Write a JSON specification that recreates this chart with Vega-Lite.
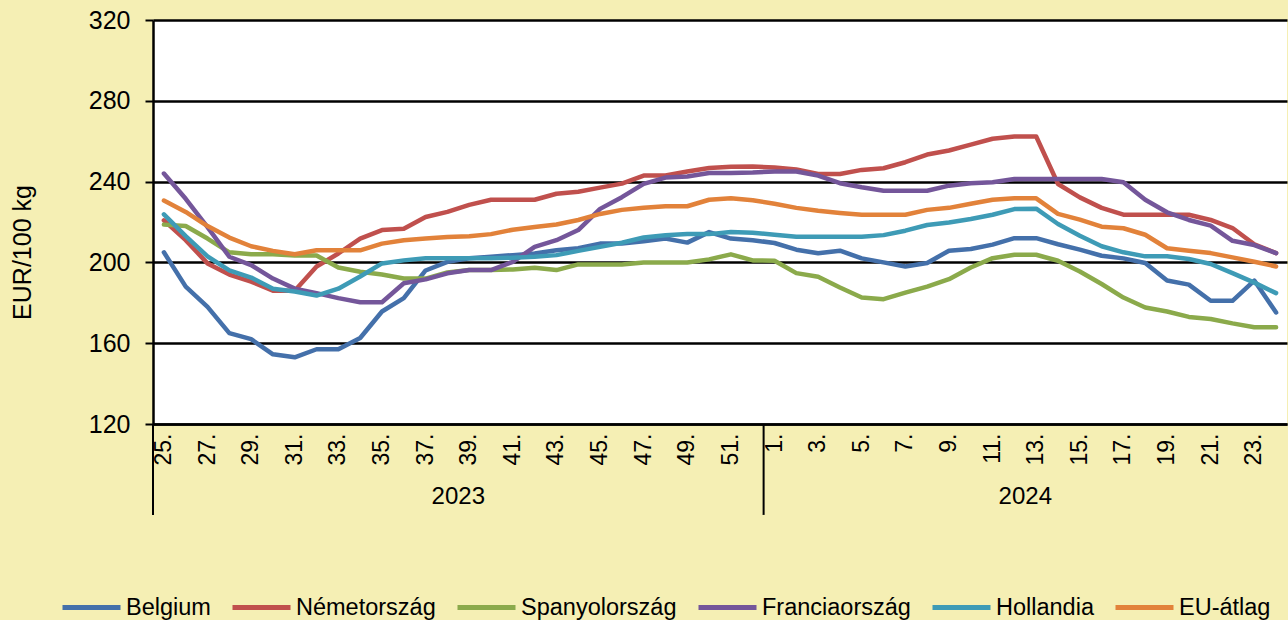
{
"$schema":"https://vega.github.io/schema/vega-lite/v6.json",
"width":1134,"height":404,
"autosize":{"type":"none"},
"padding":{"left":153,"top":20,"right":1,"bottom":196},
"background":"#F5EFB4",
"config":{"font":"Liberation Sans","view":{"fill":"white","stroke":null}},
"layer":[
{"data":{"values":[{"w":"2023-25"},{"w":"2024-01"}]},
 "mark":{"type":"rule","color":"black","strokeWidth":2},
 "encoding":{"x":{"field":"w","type":"ordinal","bandPosition":0},
  "y":{"datum":120,"type":"quantitative","scale":{"domain":[120,320]}},
  "y2":{"datum":75}}},
{"data":{"values":[{"w":"2023-39","t":"2023"},{"w":"2024-13","t":"2024"}]},
 "mark":{"type":"text","fontSize":24,"color":"black","baseline":"middle","align":"center"},
 "encoding":{"x":{"field":"w","type":"ordinal","bandPosition":0},
  "y":{"datum":84,"type":"quantitative","scale":{"domain":[120,320]}},
  "text":{"field":"t"}}},
{"data":{"values":[
{"w":"2023-25","c":"Belgium","v":205},{"w":"2023-26","c":"Belgium","v":188},{"w":"2023-27","c":"Belgium","v":178},{"w":"2023-28","c":"Belgium","v":165},{"w":"2023-29","c":"Belgium","v":162},{"w":"2023-30","c":"Belgium","v":154.5},{"w":"2023-31","c":"Belgium","v":153},{"w":"2023-32","c":"Belgium","v":157},{"w":"2023-33","c":"Belgium","v":157},{"w":"2023-34","c":"Belgium","v":162.6},{"w":"2023-35","c":"Belgium","v":175.7},{"w":"2023-36","c":"Belgium","v":182.3},{"w":"2023-37","c":"Belgium","v":196},{"w":"2023-38","c":"Belgium","v":200.3},{"w":"2023-39","c":"Belgium","v":202},{"w":"2023-40","c":"Belgium","v":202.8},{"w":"2023-41","c":"Belgium","v":203.6},{"w":"2023-42","c":"Belgium","v":204.4},{"w":"2023-43","c":"Belgium","v":206},{"w":"2023-44","c":"Belgium","v":207},{"w":"2023-45","c":"Belgium","v":209.3},{"w":"2023-46","c":"Belgium","v":209.3},{"w":"2023-47","c":"Belgium","v":210.5},{"w":"2023-48","c":"Belgium","v":211.8},{"w":"2023-49","c":"Belgium","v":209.8},{"w":"2023-50","c":"Belgium","v":215},{"w":"2023-51","c":"Belgium","v":211.8},{"w":"2023-52","c":"Belgium","v":211},{"w":"2024-01","c":"Belgium","v":209.6},{"w":"2024-02","c":"Belgium","v":206.3},{"w":"2024-03","c":"Belgium","v":204.5},{"w":"2024-04","c":"Belgium","v":205.8},{"w":"2024-05","c":"Belgium","v":202},{"w":"2024-06","c":"Belgium","v":200},{"w":"2024-07","c":"Belgium","v":198},{"w":"2024-08","c":"Belgium","v":199.7},{"w":"2024-09","c":"Belgium","v":205.8},{"w":"2024-10","c":"Belgium","v":206.6},{"w":"2024-11","c":"Belgium","v":208.8},{"w":"2024-12","c":"Belgium","v":212},{"w":"2024-13","c":"Belgium","v":212},{"w":"2024-14","c":"Belgium","v":209},{"w":"2024-15","c":"Belgium","v":206.3},{"w":"2024-16","c":"Belgium","v":203.3},{"w":"2024-17","c":"Belgium","v":202},{"w":"2024-18","c":"Belgium","v":199.7},{"w":"2024-19","c":"Belgium","v":191},{"w":"2024-20","c":"Belgium","v":189},{"w":"2024-21","c":"Belgium","v":181},{"w":"2024-22","c":"Belgium","v":181},{"w":"2024-23","c":"Belgium","v":191},{"w":"2024-24","c":"Belgium","v":175.2},
{"w":"2023-25","c":"Németország","v":220.8},{"w":"2023-26","c":"Németország","v":211},{"w":"2023-27","c":"Németország","v":199.5},{"w":"2023-28","c":"Németország","v":194},{"w":"2023-29","c":"Németország","v":190.5},{"w":"2023-30","c":"Németország","v":186},{"w":"2023-31","c":"Németország","v":186},{"w":"2023-32","c":"Németország","v":198},{"w":"2023-33","c":"Németország","v":204.4},{"w":"2023-34","c":"Németország","v":211.8},{"w":"2023-35","c":"Németország","v":216},{"w":"2023-36","c":"Németország","v":216.7},{"w":"2023-37","c":"Németország","v":222.5},{"w":"2023-38","c":"Németország","v":225},{"w":"2023-39","c":"Németország","v":228.5},{"w":"2023-40","c":"Németország","v":231},{"w":"2023-41","c":"Németország","v":231},{"w":"2023-42","c":"Németország","v":231},{"w":"2023-43","c":"Németország","v":234},{"w":"2023-44","c":"Németország","v":235},{"w":"2023-45","c":"Németország","v":237},{"w":"2023-46","c":"Németország","v":239},{"w":"2023-47","c":"Németország","v":243},{"w":"2023-48","c":"Németország","v":243},{"w":"2023-49","c":"Németország","v":245},{"w":"2023-50","c":"Németország","v":246.7},{"w":"2023-51","c":"Németország","v":247.4},{"w":"2023-52","c":"Németország","v":247.5},{"w":"2024-01","c":"Németország","v":247},{"w":"2024-02","c":"Németország","v":246},{"w":"2024-03","c":"Németország","v":243.8},{"w":"2024-04","c":"Németország","v":243.8},{"w":"2024-05","c":"Németország","v":245.8},{"w":"2024-06","c":"Németország","v":246.6},{"w":"2024-07","c":"Németország","v":249.6},{"w":"2024-08","c":"Németország","v":253.4},{"w":"2024-09","c":"Németország","v":255.4},{"w":"2024-10","c":"Németország","v":258.3},{"w":"2024-11","c":"Németország","v":261.2},{"w":"2024-12","c":"Németország","v":262.3},{"w":"2024-13","c":"Németország","v":262.3},{"w":"2024-14","c":"Németország","v":238.8},{"w":"2024-15","c":"Németország","v":232.2},{"w":"2024-16","c":"Németország","v":227},{"w":"2024-17","c":"Németország","v":223.6},{"w":"2024-18","c":"Németország","v":223.6},{"w":"2024-19","c":"Németország","v":223.6},{"w":"2024-20","c":"Németország","v":223.6},{"w":"2024-21","c":"Németország","v":221},{"w":"2024-22","c":"Németország","v":217},{"w":"2024-23","c":"Németország","v":209},{"w":"2024-24","c":"Németország","v":204.6},
{"w":"2023-25","c":"Spanyolország","v":218.7},{"w":"2023-26","c":"Spanyolország","v":218},{"w":"2023-27","c":"Spanyolország","v":211.8},{"w":"2023-28","c":"Spanyolország","v":205},{"w":"2023-29","c":"Spanyolország","v":204},{"w":"2023-30","c":"Spanyolország","v":204},{"w":"2023-31","c":"Spanyolország","v":203.4},{"w":"2023-32","c":"Spanyolország","v":203.4},{"w":"2023-33","c":"Spanyolország","v":197.5},{"w":"2023-34","c":"Spanyolország","v":195.4},{"w":"2023-35","c":"Spanyolország","v":194},{"w":"2023-36","c":"Spanyolország","v":192},{"w":"2023-37","c":"Spanyolország","v":192},{"w":"2023-38","c":"Spanyolország","v":195},{"w":"2023-39","c":"Spanyolország","v":196.2},{"w":"2023-40","c":"Spanyolország","v":196.2},{"w":"2023-41","c":"Spanyolország","v":196.5},{"w":"2023-42","c":"Spanyolország","v":197.4},{"w":"2023-43","c":"Spanyolország","v":196.2},{"w":"2023-44","c":"Spanyolország","v":199},{"w":"2023-45","c":"Spanyolország","v":199},{"w":"2023-46","c":"Spanyolország","v":199},{"w":"2023-47","c":"Spanyolország","v":200},{"w":"2023-48","c":"Spanyolország","v":200},{"w":"2023-49","c":"Spanyolország","v":200},{"w":"2023-50","c":"Spanyolország","v":201.5},{"w":"2023-51","c":"Spanyolország","v":204},{"w":"2023-52","c":"Spanyolország","v":201},{"w":"2024-01","c":"Spanyolország","v":200.8},{"w":"2024-02","c":"Spanyolország","v":194.7},{"w":"2024-03","c":"Spanyolország","v":192.9},{"w":"2024-04","c":"Spanyolország","v":187.6},{"w":"2024-05","c":"Spanyolország","v":182.6},{"w":"2024-06","c":"Spanyolország","v":181.8},{"w":"2024-07","c":"Spanyolország","v":185},{"w":"2024-08","c":"Spanyolország","v":188},{"w":"2024-09","c":"Spanyolország","v":191.7},{"w":"2024-10","c":"Spanyolország","v":197.5},{"w":"2024-11","c":"Spanyolország","v":202.1},{"w":"2024-12","c":"Spanyolország","v":203.8},{"w":"2024-13","c":"Spanyolország","v":203.8},{"w":"2024-14","c":"Spanyolország","v":200.8},{"w":"2024-15","c":"Spanyolország","v":195.5},{"w":"2024-16","c":"Spanyolország","v":189.3},{"w":"2024-17","c":"Spanyolország","v":182.6},{"w":"2024-18","c":"Spanyolország","v":177.7},{"w":"2024-19","c":"Spanyolország","v":175.7},{"w":"2024-20","c":"Spanyolország","v":173},{"w":"2024-21","c":"Spanyolország","v":172},{"w":"2024-22","c":"Spanyolország","v":169.8},{"w":"2024-23","c":"Spanyolország","v":167.9},{"w":"2024-24","c":"Spanyolország","v":167.9},
{"w":"2023-25","c":"Franciaország","v":244},{"w":"2023-26","c":"Franciaország","v":231.5},{"w":"2023-27","c":"Franciaország","v":217.5},{"w":"2023-28","c":"Franciaország","v":202.8},{"w":"2023-29","c":"Franciaország","v":198.7},{"w":"2023-30","c":"Franciaország","v":192},{"w":"2023-31","c":"Franciaország","v":187},{"w":"2023-32","c":"Franciaország","v":184.8},{"w":"2023-33","c":"Franciaország","v":182.3},{"w":"2023-34","c":"Franciaország","v":180.3},{"w":"2023-35","c":"Franciaország","v":180.3},{"w":"2023-36","c":"Franciaország","v":189.7},{"w":"2023-37","c":"Franciaország","v":191.6},{"w":"2023-38","c":"Franciaország","v":194.6},{"w":"2023-39","c":"Franciaország","v":196.2},{"w":"2023-40","c":"Franciaország","v":196.2},{"w":"2023-41","c":"Franciaország","v":200.3},{"w":"2023-42","c":"Franciaország","v":207.7},{"w":"2023-43","c":"Franciaország","v":211},{"w":"2023-44","c":"Franciaország","v":216},{"w":"2023-45","c":"Franciaország","v":226.5},{"w":"2023-46","c":"Franciaország","v":232.3},{"w":"2023-47","c":"Franciaország","v":238.9},{"w":"2023-48","c":"Franciaország","v":242},{"w":"2023-49","c":"Franciaország","v":242.5},{"w":"2023-50","c":"Franciaország","v":244.3},{"w":"2023-51","c":"Franciaország","v":244.3},{"w":"2023-52","c":"Franciaország","v":244.5},{"w":"2024-01","c":"Franciaország","v":245},{"w":"2024-02","c":"Franciaország","v":245},{"w":"2024-03","c":"Franciaország","v":243},{"w":"2024-04","c":"Franciaország","v":239.2},{"w":"2024-05","c":"Franciaország","v":237.2},{"w":"2024-06","c":"Franciaország","v":235.5},{"w":"2024-07","c":"Franciaország","v":235.5},{"w":"2024-08","c":"Franciaország","v":235.5},{"w":"2024-09","c":"Franciaország","v":238},{"w":"2024-10","c":"Franciaország","v":239.2},{"w":"2024-11","c":"Franciaország","v":239.7},{"w":"2024-12","c":"Franciaország","v":241.3},{"w":"2024-13","c":"Franciaország","v":241.3},{"w":"2024-14","c":"Franciaország","v":241.3},{"w":"2024-15","c":"Franciaország","v":241.3},{"w":"2024-16","c":"Franciaország","v":241.3},{"w":"2024-17","c":"Franciaország","v":239.7},{"w":"2024-18","c":"Franciaország","v":231},{"w":"2024-19","c":"Franciaország","v":224.8},{"w":"2024-20","c":"Franciaország","v":221},{"w":"2024-21","c":"Franciaország","v":218.2},{"w":"2024-22","c":"Franciaország","v":210.7},{"w":"2024-23","c":"Franciaország","v":208.6},{"w":"2024-24","c":"Franciaország","v":204.6},
{"w":"2023-25","c":"Hollandia","v":223.8},{"w":"2023-26","c":"Hollandia","v":213},{"w":"2023-27","c":"Hollandia","v":203},{"w":"2023-28","c":"Hollandia","v":196},{"w":"2023-29","c":"Hollandia","v":192.5},{"w":"2023-30","c":"Hollandia","v":187},{"w":"2023-31","c":"Hollandia","v":185.6},{"w":"2023-32","c":"Hollandia","v":183.6},{"w":"2023-33","c":"Hollandia","v":187},{"w":"2023-34","c":"Hollandia","v":193},{"w":"2023-35","c":"Hollandia","v":199.5},{"w":"2023-36","c":"Hollandia","v":201},{"w":"2023-37","c":"Hollandia","v":202},{"w":"2023-38","c":"Hollandia","v":202},{"w":"2023-39","c":"Hollandia","v":202},{"w":"2023-40","c":"Hollandia","v":202},{"w":"2023-41","c":"Hollandia","v":202.3},{"w":"2023-42","c":"Hollandia","v":202.8},{"w":"2023-43","c":"Hollandia","v":203.6},{"w":"2023-44","c":"Hollandia","v":205.7},{"w":"2023-45","c":"Hollandia","v":207.7},{"w":"2023-46","c":"Hollandia","v":209.7},{"w":"2023-47","c":"Hollandia","v":212.3},{"w":"2023-48","c":"Hollandia","v":213.4},{"w":"2023-49","c":"Hollandia","v":214},{"w":"2023-50","c":"Hollandia","v":214},{"w":"2023-51","c":"Hollandia","v":215},{"w":"2023-52","c":"Hollandia","v":214.7},{"w":"2024-01","c":"Hollandia","v":213.7},{"w":"2024-02","c":"Hollandia","v":212.7},{"w":"2024-03","c":"Hollandia","v":212.7},{"w":"2024-04","c":"Hollandia","v":212.7},{"w":"2024-05","c":"Hollandia","v":212.7},{"w":"2024-06","c":"Hollandia","v":213.5},{"w":"2024-07","c":"Hollandia","v":215.7},{"w":"2024-08","c":"Hollandia","v":218.5},{"w":"2024-09","c":"Hollandia","v":219.8},{"w":"2024-10","c":"Hollandia","v":221.5},{"w":"2024-11","c":"Hollandia","v":223.6},{"w":"2024-12","c":"Hollandia","v":226.4},{"w":"2024-13","c":"Hollandia","v":226.6},{"w":"2024-14","c":"Hollandia","v":219},{"w":"2024-15","c":"Hollandia","v":213.2},{"w":"2024-16","c":"Hollandia","v":208},{"w":"2024-17","c":"Hollandia","v":205},{"w":"2024-18","c":"Hollandia","v":203},{"w":"2024-19","c":"Hollandia","v":203},{"w":"2024-20","c":"Hollandia","v":201.7},{"w":"2024-21","c":"Hollandia","v":199.2},{"w":"2024-22","c":"Hollandia","v":194.7},{"w":"2024-23","c":"Hollandia","v":190},{"w":"2024-24","c":"Hollandia","v":184.8},
{"w":"2023-25","c":"EU-átlag","v":230.6},{"w":"2023-26","c":"EU-átlag","v":225},{"w":"2023-27","c":"EU-átlag","v":218},{"w":"2023-28","c":"EU-átlag","v":212.3},{"w":"2023-29","c":"EU-átlag","v":208},{"w":"2023-30","c":"EU-átlag","v":205.7},{"w":"2023-31","c":"EU-átlag","v":204},{"w":"2023-32","c":"EU-átlag","v":206},{"w":"2023-33","c":"EU-átlag","v":206},{"w":"2023-34","c":"EU-átlag","v":206},{"w":"2023-35","c":"EU-átlag","v":209.3},{"w":"2023-36","c":"EU-átlag","v":211},{"w":"2023-37","c":"EU-átlag","v":211.8},{"w":"2023-38","c":"EU-átlag","v":212.6},{"w":"2023-39","c":"EU-átlag","v":213},{"w":"2023-40","c":"EU-átlag","v":214},{"w":"2023-41","c":"EU-átlag","v":216.2},{"w":"2023-42","c":"EU-átlag","v":217.5},{"w":"2023-43","c":"EU-átlag","v":218.8},{"w":"2023-44","c":"EU-átlag","v":221},{"w":"2023-45","c":"EU-átlag","v":224},{"w":"2023-46","c":"EU-átlag","v":226},{"w":"2023-47","c":"EU-átlag","v":227},{"w":"2023-48","c":"EU-átlag","v":227.8},{"w":"2023-49","c":"EU-átlag","v":227.8},{"w":"2023-50","c":"EU-átlag","v":231},{"w":"2023-51","c":"EU-átlag","v":231.8},{"w":"2023-52","c":"EU-átlag","v":230.8},{"w":"2024-01","c":"EU-átlag","v":229},{"w":"2024-02","c":"EU-átlag","v":227},{"w":"2024-03","c":"EU-átlag","v":225.6},{"w":"2024-04","c":"EU-átlag","v":224.5},{"w":"2024-05","c":"EU-átlag","v":223.6},{"w":"2024-06","c":"EU-átlag","v":223.6},{"w":"2024-07","c":"EU-átlag","v":223.6},{"w":"2024-08","c":"EU-átlag","v":226},{"w":"2024-09","c":"EU-átlag","v":227},{"w":"2024-10","c":"EU-átlag","v":229},{"w":"2024-11","c":"EU-átlag","v":231},{"w":"2024-12","c":"EU-átlag","v":231.7},{"w":"2024-13","c":"EU-átlag","v":231.7},{"w":"2024-14","c":"EU-átlag","v":224},{"w":"2024-15","c":"EU-átlag","v":221.2},{"w":"2024-16","c":"EU-átlag","v":217.7},{"w":"2024-17","c":"EU-átlag","v":216.9},{"w":"2024-18","c":"EU-átlag","v":213.7},{"w":"2024-19","c":"EU-átlag","v":207},{"w":"2024-20","c":"EU-átlag","v":205.8},{"w":"2024-21","c":"EU-átlag","v":204.6},{"w":"2024-22","c":"EU-átlag","v":202.5},{"w":"2024-23","c":"EU-átlag","v":200.3},{"w":"2024-24","c":"EU-átlag","v":198}
]},
 "mark":{"type":"line","strokeWidth":4.5,"strokeJoin":"round","strokeCap":"round"},
 "encoding":{
  "x":{"field":"w","type":"ordinal","scale":{"type":"band","paddingInner":0,"paddingOuter":0},
   "axis":{"title":null,"labelAngle":270,"labelFontSize":23,"labelColor":"black","labelPadding":9,"ticks":false,"domainColor":"black","domainWidth":2.5,"labelOverlap":false,"labelExpr":"toNumber(slice(datum.value,5)) % 2 == 1 ? toNumber(slice(datum.value,5)) + '.' : ''"}},
  "y":{"field":"v","type":"quantitative","scale":{"domain":[120,320],"nice":false,"zero":false},
   "axis":{"title":"EUR/100 kg","titleFontSize":25,"titleFontWeight":"normal","titleColor":"black","titleX":-131,"titleY":232,"titleAngle":270,"titleAlign":"center","titleBaseline":"middle","values":[120,160,200,240,280,320],"labelFontSize":25,"labelColor":"black","labelPadding":15,"tickSize":8,"tickColor":"black","tickWidth":2,"domainColor":"black","domainWidth":2.5,"grid":true,"gridColor":"black","gridWidth":2.5}},
  "color":{"field":"c","type":"nominal","sort":null,
   "scale":{"domain":["Belgium","Németország","Spanyolország","Franciaország","Hollandia","EU-átlag"],"range":["#4470AA","#C0504D","#8BAA4B","#74569A","#3E9BB6","#E2823A"]},
   "legend":{"title":null,"orient":"none","legendX":-93,"legendY":556,"direction":"horizontal","columns":6,"symbolType":"stroke","symbolSize":3364,"symbolStrokeWidth":5,"labelFontSize":23.5,"labelLimit":400,"labelColor":"black","labelOffset":3,"columnPadding":11,"padding":0}}
 }}
]
}
